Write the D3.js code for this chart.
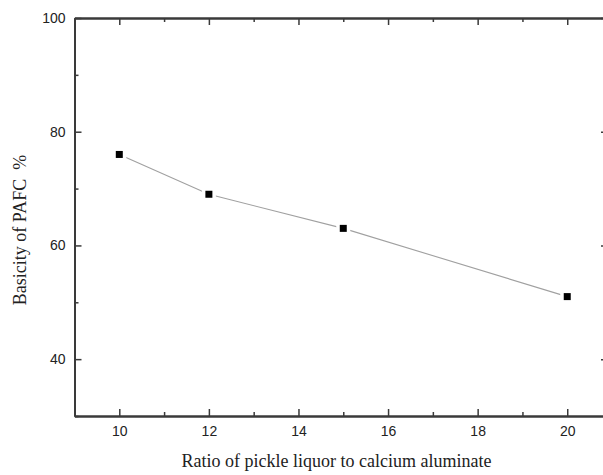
<!DOCTYPE html>
<html>
<head>
<meta charset="utf-8">
<script src="https://cdn.jsdelivr.net/npm/d3@7"></script>
<style>
  body { margin: 0; background: #fff; }
  svg { display: block; }
</style>
</head>
<body>
<div id="chart"></div>
<script>
const ratios = [10, 12, 15, 20];
const basicity = [76, 69, 63, 51];
const xTicks = [10, 12, 14, 16, 18, 20];
const yTicks = [40, 60, 80, 100];

const width = 603;
const height = 475;
const mLeft = 74.5, mTop = 18, mBottom = 416, mRight = 608;

const x = d3.scaleLinear().domain([9, 20.91]).range([mLeft, mRight]);
const y = d3.scaleLinear().domain([30, 100]).range([mBottom, mTop]);

const svg = d3.select("#chart").append("svg")
    .attr("width", width)
    .attr("height", height);

const axisColor = "#3a3a3a";
const xMinor = d3.range(9, 21, 1).filter(v => !xTicks.includes(v));
const yMinor = d3.range(30, 101, 10).filter(v => !yTicks.includes(v));

// ticks all point inward, like the original plot
function styleAxis(g) {
    g.select(".domain").attr("stroke", axisColor).attr("stroke-width", 2);
    g.selectAll(".tick line").attr("stroke", axisColor).attr("stroke-width", 1.5);
    g.selectAll(".tick text")
        .attr("fill", "#222")
        .style("font", "14px 'Liberation Sans', Arial, sans-serif");
}

// bottom
svg.append("g")
    .attr("transform", `translate(0,${mBottom})`)
    .call(d3.axisBottom(x).tickValues(xTicks).tickSizeInner(-7).tickSizeOuter(0).tickPadding(10))
    .call(styleAxis);
svg.append("g")
    .attr("transform", `translate(0,${mBottom})`)
    .call(d3.axisBottom(x).tickValues(xMinor).tickSizeInner(-4).tickSizeOuter(0).tickFormat(""))
    .call(styleAxis);

// top
svg.append("g")
    .attr("transform", `translate(0,${mTop})`)
    .call(d3.axisTop(x).tickValues(xTicks).tickSizeInner(-7).tickSizeOuter(0).tickFormat(""))
    .call(styleAxis);
svg.append("g")
    .attr("transform", `translate(0,${mTop})`)
    .call(d3.axisTop(x).tickValues(xMinor).tickSizeInner(-4).tickSizeOuter(0).tickFormat(""))
    .call(styleAxis);

// left
svg.append("g")
    .attr("transform", `translate(${mLeft},0)`)
    .call(d3.axisLeft(y).tickValues(yTicks).tickSizeInner(-7).tickSizeOuter(0).tickPadding(9))
    .call(styleAxis);
svg.append("g")
    .attr("transform", `translate(${mLeft},0)`)
    .call(d3.axisLeft(y).tickValues(yMinor).tickSizeInner(-4).tickSizeOuter(0).tickFormat(""))
    .call(styleAxis);

// right
svg.append("g")
    .attr("transform", `translate(${mRight},0)`)
    .call(d3.axisRight(y).tickValues(yTicks).tickSizeInner(-7).tickSizeOuter(0).tickFormat(""))
    .call(styleAxis);
svg.append("g")
    .attr("transform", `translate(${mRight},0)`)
    .call(d3.axisRight(y).tickValues(yMinor).tickSizeInner(-4).tickSizeOuter(0).tickFormat(""))
    .call(styleAxis);

// data
const pts = ratios.map((r, i) => [r, basicity[i]]);

svg.append("path")
    .datum(pts)
    .attr("fill", "none")
    .attr("stroke", "#a0a0a0")
    .attr("stroke-width", 1.1)
    .attr("d", d3.line().x(d => x(d[0])).y(d => y(d[1])));

// white halo leaves a small gap between line and marker
svg.append("g").selectAll("rect")
    .data(pts)
    .join("rect")
    .attr("x", d => x(d[0]) - 7)
    .attr("y", d => y(d[1]) - 7)
    .attr("width", 14)
    .attr("height", 14)
    .attr("fill", "#fff");

svg.append("g").selectAll("rect")
    .data(pts)
    .join("rect")
    .attr("x", d => x(d[0]) - 3.5)
    .attr("y", d => y(d[1]) - 3.5)
    .attr("width", 7)
    .attr("height", 7)
    .attr("fill", "#000");

// axis titles
svg.append("text")
    .attr("x", 336.5)
    .attr("y", 467)
    .attr("text-anchor", "middle")
    .attr("fill", "#222")
    .style("font", "18px 'Liberation Serif', 'Times New Roman', serif")
    .text("Ratio of pickle liquor to calcium aluminate");

svg.append("text")
    .attr("transform", `translate(26,230) rotate(-90)`)
    .attr("text-anchor", "middle")
    .attr("fill", "#222")
    .style("font", "18px 'Liberation Serif', 'Times New Roman', serif")
    .style("white-space", "pre")
    .text("Basicity of PAFC  %");
</script>
</body>
</html>
